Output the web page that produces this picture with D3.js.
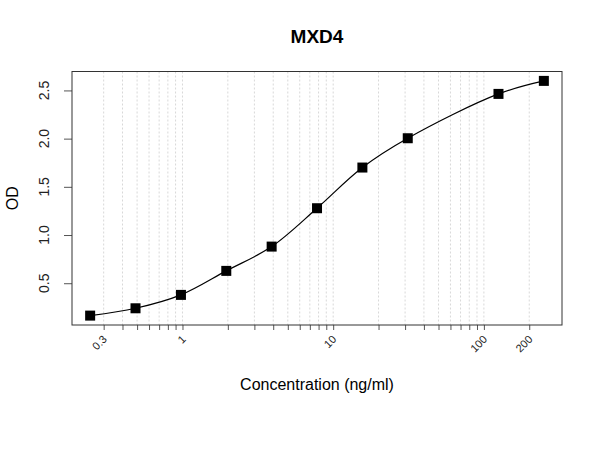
<!DOCTYPE html>
<html>
<head>
<meta charset="utf-8">
<script src="https://cdn.jsdelivr.net/npm/d3@7"></script>
<style>
  body { margin: 0; background: #fff; }
  text { font-family: "Liberation Sans", Arial, sans-serif; }
</style>
</head>
<body>
<svg id="chart" width="600" height="450"></svg>
<script>
// standard curve, 2-fold dilutions from 250 ng/ml (62.5 missing)
const conc = [0.244, 0.488, 0.977, 1.953, 3.906, 7.8125, 15.625, 31.25, 125, 250];
const od = [0.164, 0.24, 0.379, 0.628, 0.88, 1.278, 1.70, 2.004, 2.464, 2.599];
const xLabels = [0.3, 1, 10, 100, 200];
const xMinor = [0.3, 0.4, 0.5, 0.6, 0.7, 0.8, 0.9,
  1, 2, 3, 4, 5, 6, 7, 8, 9,
  10, 20, 30, 40, 50, 60, 70, 80, 90, 100, 200];
const yTicks = [0.5, 1.0, 1.5, 2.0, 2.5];

const svg = d3.select('#chart');
const pLeft = 72, pRight = 562, pTop = 71.5, pBottom = 325;

// R style 4% padding on each side
const lx = d3.extent(conc, d => Math.log10(d));
const px = (lx[1] - lx[0]) * 0.04;
const x = d3.scaleLog()
  .domain([Math.pow(10, lx[0] - px), Math.pow(10, lx[1] + px)])
  .range([pLeft, pRight]);

const ly = d3.extent(od);
const py = (ly[1] - ly[0]) * 0.04;
const y = d3.scaleLinear()
  .domain([ly[0] - py, ly[1] + py])
  .range([pBottom, pTop]);

// dotted grid
svg.append('g')
  .selectAll('line')
  .data(xMinor)
  .enter().append('line')
  .attr('x1', d => x(d)).attr('x2', d => x(d))
  .attr('y1', pTop).attr('y2', pBottom)
  .attr('stroke', '#d8d8d8')
  .attr('stroke-dasharray', '2,2');

// x axis
const xAxis = svg.append('g')
  .attr('transform', `translate(0,${pBottom})`)
  .call(d3.axisBottom(x).tickValues(xMinor).tickSize(5).tickFormat(''));
xAxis.select('.domain').remove();
xAxis.selectAll('.tick line').attr('stroke', '#555');

svg.append('g')
  .selectAll('text')
  .data(xLabels)
  .enter().append('text')
  .attr('transform', d => `translate(${x(d) + 4},${pBottom + 15}) rotate(-45)`)
  .attr('text-anchor', 'end')
  .attr('font-size', 11)
  .attr('fill', '#222')
  .text(d => d);

// y axis
const yAxis = svg.append('g')
  .attr('transform', `translate(${pLeft},0)`)
  .call(d3.axisLeft(y).tickValues(yTicks).tickSize(8).tickFormat(''));
yAxis.select('.domain').remove();
yAxis.selectAll('.tick line').attr('stroke', '#555');

svg.append('g')
  .selectAll('text')
  .data(yTicks)
  .enter().append('text')
  .attr('transform', d => `translate(49,${y(d)}) rotate(-90)`)
  .attr('text-anchor', 'middle')
  .attr('font-size', 14)
  .attr('fill', '#222')
  .text(d => d.toFixed(1));

// plot box
svg.append('rect')
  .attr('x', pLeft).attr('y', pTop)
  .attr('width', pRight - pLeft).attr('height', pBottom - pTop)
  .attr('fill', 'none')
  .attr('stroke', '#333');

// curve
const line = d3.line()
  .x((d, i) => x(conc[i]))
  .y(d => y(d))
  .curve(d3.curveCatmullRom.alpha(0.5));

svg.append('path')
  .datum(od)
  .attr('d', line)
  .attr('fill', 'none')
  .attr('stroke', '#000')
  .attr('stroke-width', 1.2);

// points
svg.selectAll('.pt')
  .data(od)
  .enter().append('rect')
  .attr('class', 'pt')
  .attr('x', (d, i) => x(conc[i]) - 5)
  .attr('y', d => y(d) - 5)
  .attr('width', 10)
  .attr('height', 10)
  .attr('fill', '#000');

// labels
svg.append('text')
  .attr('x', (pLeft + pRight) / 2).attr('y', 43)
  .attr('text-anchor', 'middle')
  .attr('font-size', 19)
  .attr('font-weight', 'bold')
  .text('MXD4');

svg.append('text')
  .attr('x', (pLeft + pRight) / 2).attr('y', 390)
  .attr('text-anchor', 'middle')
  .attr('font-size', 16)
  .text('Concentration (ng/ml)');

svg.append('text')
  .attr('transform', `translate(18,${(pTop + pBottom) / 2}) rotate(-90)`)
  .attr('text-anchor', 'middle')
  .attr('font-size', 16)
  .text('OD');
</script>
</body>
</html>
